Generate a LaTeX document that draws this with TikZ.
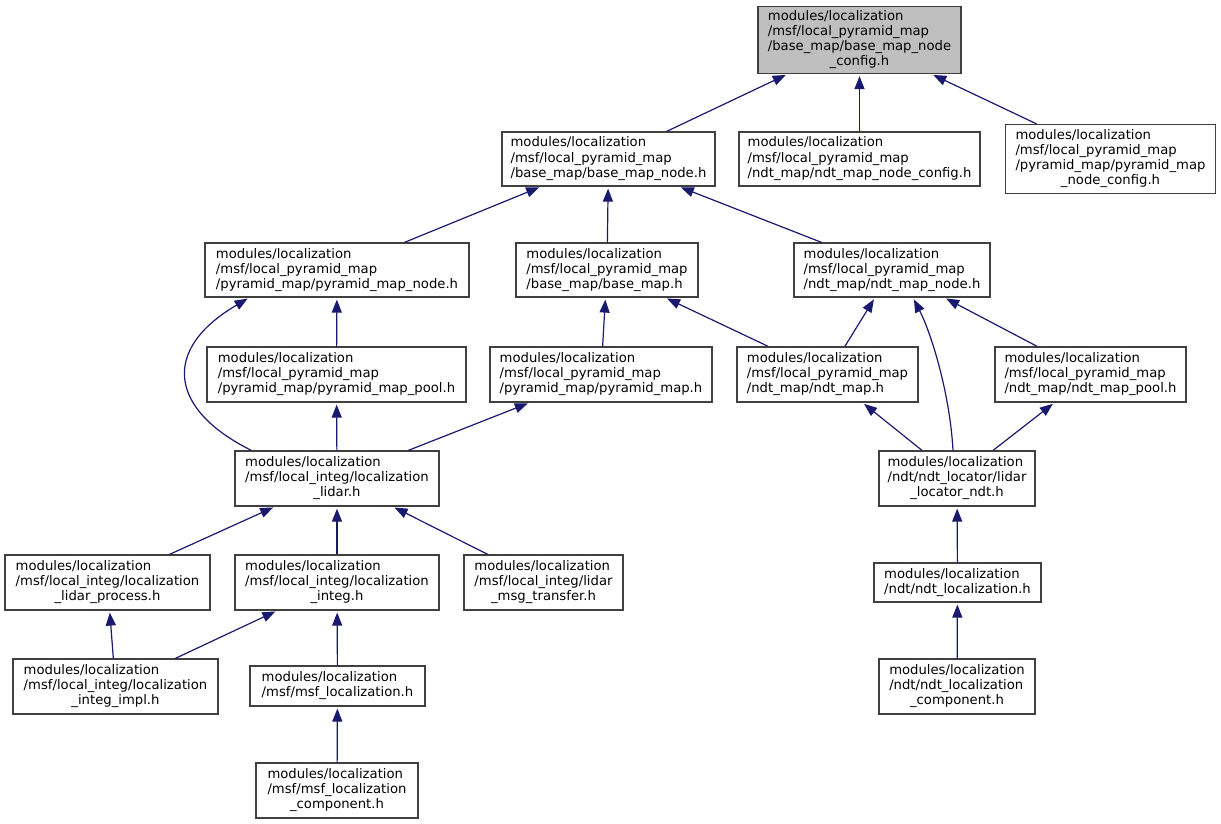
\documentclass[tikz,border=0pt]{standalone}
\usepackage{fontspec}
\setmainfont{DejaVu Sans}
\usetikzlibrary{arrows.meta}
\definecolor{edgeblue}{RGB}{25,25,112}
\definecolor{rootgray}{RGB}{191,191,191}
\definecolor{boxline}{RGB}{64,64,64}
\newcommand{\tl}[1]{\begin{tabular}{@{}l@{}}#1\end{tabular}}
\newcommand{\lc}[1]{\multicolumn{1}{@{}c@{}}{#1}}
\tikzset{
  box/.style={draw=boxline, line width=1.2pt, fill=white, inner sep=0pt, align=center,
    font=\fontsize{13.2}{15}\selectfont},
  dep/.style={draw=edgeblue, line width=1.2pt, {Triangle[length=13pt,width=10pt]}-, shorten <=2pt}
}
\begin{document}
\begin{tikzpicture}[x=1pt,y=-1pt]
\useasboundingbox (0,0) rectangle (1221,824);
% row 0
\node[box, fill=rootgray, minimum width=203pt, minimum height=67pt] (root) at (859.5,40)
 {\tl{modules/localization\\/msf/local\_pyramid\_map\\/base\_map/base\_map\_node\\\lc{\_config.h}}};
% row 1
\node[box, minimum width=213pt, minimum height=54pt] (bmn) at (608.5,159)
 {\tl{modules/localization\\/msf/local\_pyramid\_map\\/base\_map/base\_map\_node.h}};
\node[box, minimum width=241pt, minimum height=54pt] (ndtcfg) at (859.5,159)
 {\tl{modules/localization\\/msf/local\_pyramid\_map\\/ndt\_map/ndt\_map\_node\_config.h}};
\node[box, minimum width=210pt, minimum height=69pt] (pyrcfg) at (1110.5,159)
 {\tl{modules/localization\\/msf/local\_pyramid\_map\\/pyramid\_map/pyramid\_map\\\lc{\_node\_config.h}}};
% row 2
\node[box, minimum width=264pt, minimum height=54pt] (pmn) at (337,270)
 {\tl{modules/localization\\/msf/local\_pyramid\_map\\/pyramid\_map/pyramid\_map\_node.h}};
\node[box, minimum width=182pt, minimum height=54pt] (bm) at (607,270)
 {\tl{modules/localization\\/msf/local\_pyramid\_map\\/base\_map/base\_map.h}};
\node[box, minimum width=196pt, minimum height=54pt] (nmn) at (892,270)
 {\tl{modules/localization\\/msf/local\_pyramid\_map\\/ndt\_map/ndt\_map\_node.h}};
% row 3
\node[box, minimum width=259pt, minimum height=55pt] (pmp) at (336.5,374.5)
 {\tl{modules/localization\\/msf/local\_pyramid\_map\\/pyramid\_map/pyramid\_map\_pool.h}};
\node[box, minimum width=222pt, minimum height=55pt] (pm) at (601,374.5)
 {\tl{modules/localization\\/msf/local\_pyramid\_map\\/pyramid\_map/pyramid\_map.h}};
\node[box, minimum width=181pt, minimum height=55pt] (nm) at (827.5,374.5)
 {\tl{modules/localization\\/msf/local\_pyramid\_map\\/ndt\_map/ndt\_map.h}};
\node[box, minimum width=191pt, minimum height=55pt] (nmp) at (1090.5,374.5)
 {\tl{modules/localization\\/msf/local\_pyramid\_map\\/ndt\_map/ndt\_map\_pool.h}};
% row 4
\node[box, minimum width=204pt, minimum height=55pt] (ll) at (337,478.5)
 {\tl{modules/localization\\/msf/local\_integ/localization\\\lc{\_lidar.h}}};
\node[box, minimum width=156pt, minimum height=55pt] (lln) at (957,478.5)
 {\tl{modules/localization\\/ndt/ndt\_locator/lidar\\\lc{\_locator\_ndt.h}}};
% row 5
\node[box, minimum width=205pt, minimum height=55pt] (llp) at (107.5,582.5)
 {\tl{modules/localization\\/msf/local\_integ/localization\\\lc{\_lidar\_process.h}}};
\node[box, minimum width=204pt, minimum height=55pt] (li) at (337,582.5)
 {\tl{modules/localization\\/msf/local\_integ/localization\\\lc{\_integ.h}}};
\node[box, minimum width=159pt, minimum height=55pt] (lmt) at (543.5,582.5)
 {\tl{modules/localization\\/msf/local\_integ/lidar\\\lc{\_msg\_transfer.h}}};
\node[box, minimum width=167pt, minimum height=39pt] (nl) at (957.5,582.5)
 {\tl{modules/localization\\/ndt/ndt\_localization.h}};
% row 6
\node[box, minimum width=205pt, minimum height=55pt] (lii) at (115.5,686.5)
 {\tl{modules/localization\\/msf/local\_integ/localization\\\lc{\_integ\_impl.h}}};
\node[box, minimum width=175pt, minimum height=40pt] (msf) at (337.5,686)
 {\tl{modules/localization\\/msf/msf\_localization.h}};
\node[box, minimum width=156pt, minimum height=55pt] (nlc) at (957,686.5)
 {\tl{modules/localization\\/ndt/ndt\_localization\\\lc{\_component.h}}};
% row 7
\node[box, minimum width=162pt, minimum height=55pt] (msfc) at (337,790.5)
 {\tl{modules/localization\\/msf/msf\_localization\\\lc{\_component.h}}};
% edges (arrow at the included file)
\draw[dep] (root) -- (bmn);
\draw[dep] (root) -- (ndtcfg);
\draw[dep] (root) -- (pyrcfg);
\draw[dep] (bmn) -- (pmn);
\draw[dep] (bmn) -- (bm);
\draw[dep] (bmn) -- (nmn);
\draw[dep] (pmn) -- (pmp);
\draw[dep] ([xshift=45pt]pmn.south west) .. controls (160,350) and (170,410) .. ([xshift=17pt]ll.north west);
\draw[dep] (bm) -- (pm);
\draw[dep] (bm) -- (nm);
\draw[dep] (nmn) -- (nm);
\draw[dep] ([xshift=21pt]nmn.south) .. controls (932,335) and (950,395) .. ([xshift=-4pt]lln.north);
\draw[dep] (nmn) -- (nmp);
\draw[dep] (pmp) -- (ll);
\draw[dep] (pm) -- (ll);
\draw[dep] (nm) -- (lln);
\draw[dep] (nmp) -- (lln);
\draw[dep] (ll) -- (llp);
\draw[dep] (ll) -- (li);
\draw[dep] (ll) -- (lmt);
\draw[dep] (lln) -- (nl);
\draw[dep] (llp) -- (lii);
\draw[dep] (li) -- (lii);
\draw[dep] (li) -- (msf);
\draw[dep] (nl) -- (nlc);
\draw[dep] (msf) -- (msfc);
\end{tikzpicture}
\end{document}
